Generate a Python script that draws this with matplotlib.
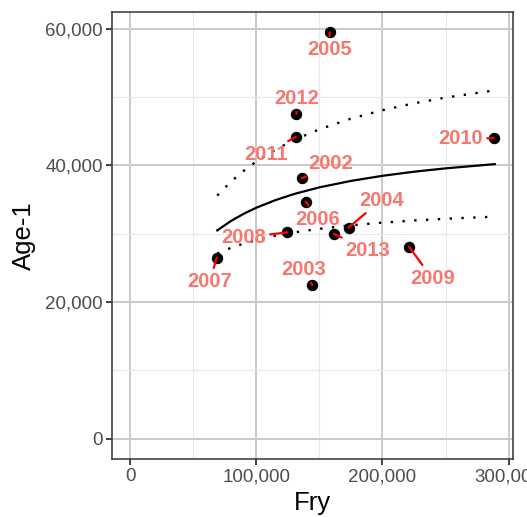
import matplotlib

matplotlib.use("Agg")
import matplotlib.pyplot as plt
from matplotlib.ticker import FuncFormatter, MultipleLocator

plt.rcParams["font.family"] = ["Liberation Sans", "DejaVu Sans"]

# observed recruitment by year
years = ["2002", "2003", "2004", "2005", "2006", "2007", "2008",
         "2009", "2010", "2011", "2012", "2013"]
fry = [136200, 144400, 173100, 158100, 139100, 68500, 124600,
       221100, 288300, 131200, 131800, 161500]
age1 = [38100, 22500, 30900, 59500, 34700, 26500, 30200,
        28100, 44000, 44200, 47600, 30000]

# label offsets from their point (points)
label_dx = [20.4, -6.3, 23.5, 0.0, 8.9, -4.8, -31.5, 16.6, -23.8, -21.6, 0.0, 24.5]
label_dy = [10.8, 11.3, 19.9, -12.7, -12.5, -17.3, -3.6, -22.8, -0.3, -12.5, 11.1, -12.0]

# fitted stock-recruit curve and its bounds
fit_x = [69000, 80000, 90000, 100000, 115000, 130000, 150000,
         175000, 200000, 225000, 250000, 289000]
fit_y = [30500, 31890, 32930, 33820, 34920, 35830, 36800,
         37740, 38490, 39090, 39580, 40200]
upper_y = [35600, 37660, 39230, 40590, 42310, 43740, 45300,
           46860, 48100, 49100, 49940, 51000]
lower_y = [27110, 27950, 28570, 29080, 29700, 30210, 30730,
           31250, 31630, 31950, 32200, 32510]

fig = plt.figure(figsize=(5.27, 5.17), dpi=100)
ax = fig.add_axes([0.2125, 0.1122, 0.7609, 0.8646])

ax.plot(fit_x, fit_y, color="black", lw=1.6, zorder=2)
for band in (upper_y, lower_y):
    ax.plot(fit_x, band, color="black", lw=1.7, linestyle=(0, (1, 4)), zorder=2)

ax.scatter(fry, age1, s=52, color="black", zorder=3)

for yr, x, y, dx, dy in zip(years, fry, age1, label_dx, label_dy):
    ax.annotate(
        yr, (x, y), xytext=(dx, dy), textcoords="offset points",
        ha="center", va="center", fontsize=14.5, fontweight="bold",
        color="#F8766D", zorder=4,
        arrowprops=dict(arrowstyle="-", color="red", lw=1.6,
                        shrinkA=1, shrinkB=0),
    )

ax.set_xlim(-14450, 303450)
ax.set_ylim(-2975, 62475)
ax.xaxis.set_major_locator(MultipleLocator(100000))
ax.xaxis.set_minor_locator(MultipleLocator(50000))
ax.yaxis.set_major_locator(MultipleLocator(20000))
ax.yaxis.set_minor_locator(MultipleLocator(10000))
fmt = FuncFormatter(lambda v, p: f"{int(v):,}")
ax.xaxis.set_major_formatter(fmt)
ax.yaxis.set_major_formatter(fmt)

ax.grid(True, which="major", color="#C9C9C9", lw=1.4, zorder=0)
ax.grid(True, which="minor", color="#E8E8E8", lw=0.8, zorder=0)
ax.set_axisbelow(True)
for s in ax.spines.values():
    s.set_color("#333333")
    s.set_linewidth(1.1)

ax.tick_params(which="major", length=4, width=1.3, color="#333333",
               labelsize=13.5, labelcolor="#4D4D4D", pad=2.5)
ax.tick_params(which="minor", length=0)

ax.set_xlabel("Fry", fontsize=18.5, labelpad=4)
ax.set_ylabel("Age-1", fontsize=18.5, labelpad=7)

fig.savefig("out.png", dpi=100)
plt.close(fig)
